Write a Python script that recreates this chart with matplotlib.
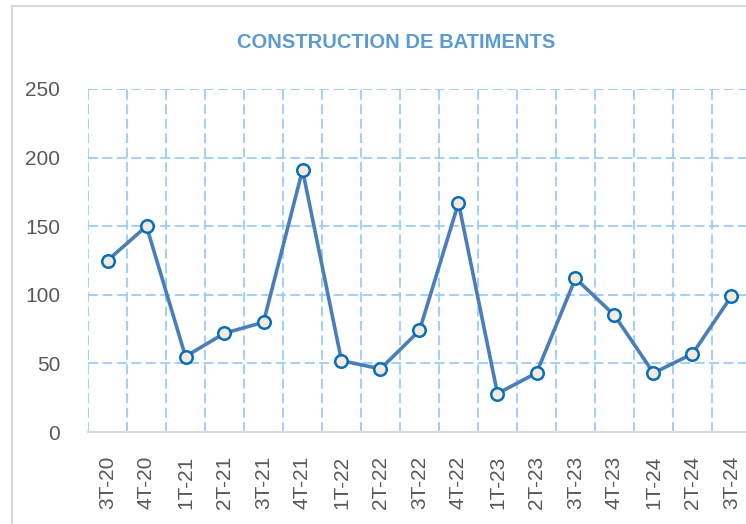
import matplotlib
matplotlib.use("Agg")
from matplotlib import pyplot as plt
from matplotlib import patches

# quarters and values
quarters = ["3T-20", "4T-20", "1T-21", "2T-21", "3T-21", "4T-21",
            "1T-22", "2T-22", "3T-22", "4T-22", "1T-23", "2T-23",
            "3T-23", "4T-23", "1T-24", "2T-24", "3T-24"]
values = [125, 150, 55, 72, 80, 191, 52, 46, 74, 167, 28, 43,
          112, 85, 43, 57, 99]
y_ticks = [0, 50, 100, 150, 200, 250]

W, H = 746, 524
fig = plt.figure(figsize=(W / 100, H / 100), dpi=100)

# outer chart frame (partly cut off on the right and bottom)
frame = patches.Rectangle((12 / W, -0.1), 1.0, 1 - 6 / H + 0.1,
                          transform=fig.transFigure, facecolor="white",
                          edgecolor="#d9d9d9", linewidth=1.5, zorder=-10)
fig.patches.append(frame)

n = len(quarters)
left, right = 88 / W, (88 + 39 * n) / W
bottom, top = (H - 432) / H, (H - 89) / H
ax = fig.add_axes([left, bottom, right - left, top - bottom])
ax.set_facecolor("none")

x = list(range(n))
ax.set_xlim(-0.5, n - 0.5)
ax.set_ylim(0, 250)

# dashed light blue grid, verticals sit between categories
grid_color = "#99ccff"
dash = (0, (5.5, 2.5))
for yv in y_ticks[1:]:
    ax.axhline(yv, color=grid_color, linestyle=dash, linewidth=1.3, zorder=1)
for i in range(n + 1):
    ax.axvline(i - 0.5, color=grid_color, linestyle=dash, linewidth=1.3, zorder=1)

ax.plot(x, values, color="#4a7ebb", linewidth=2.6, marker="o",
        markersize=9, markerfacecolor="#fde9d9", markeredgecolor="#0070c0",
        markeredgewidth=1.8, zorder=3, clip_on=False)

for name, spine in ax.spines.items():
    spine.set_visible(name == "bottom")
ax.spines["bottom"].set_color("#d9d9d9")
ax.spines["bottom"].set_linewidth(1.5)

ax.set_yticks(y_ticks)
ax.set_yticklabels([str(v) for v in y_ticks])
ax.set_xticks(x)
ax.set_xticklabels(quarters, rotation=90)
ax.tick_params(axis="both", length=0, labelsize=15, labelcolor="#595959")
ax.tick_params(axis="y", pad=20)
ax.tick_params(axis="x", pad=17)
for lbl in ax.get_xticklabels() + ax.get_yticklabels():
    lbl.set_fontfamily("Liberation Sans")

fig.text(396 / W, 1 - 43 / H, "CONSTRUCTION DE BATIMENTS", ha="center",
         va="center", fontsize=14.5, fontweight="bold", color="#5b9bd5",
         family="Liberation Sans")

fig.savefig("out.png", dpi=100)
